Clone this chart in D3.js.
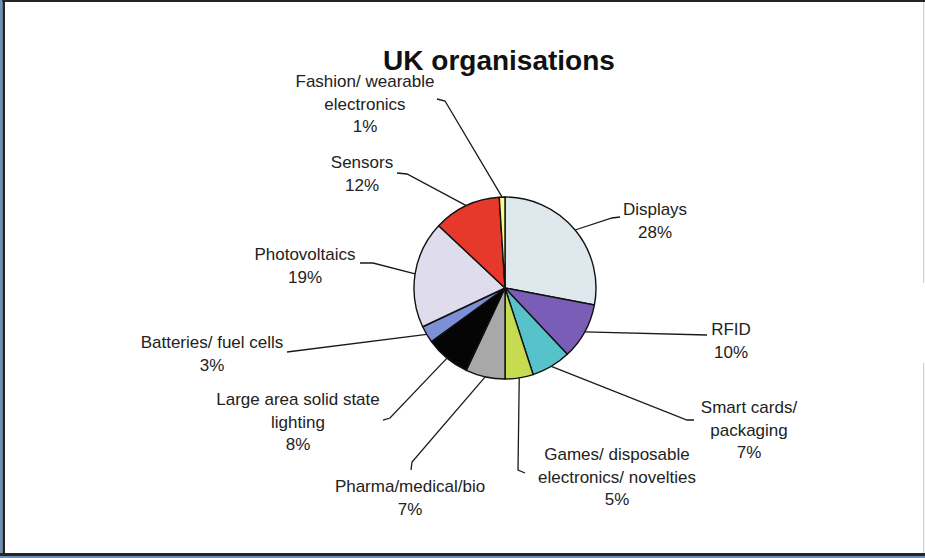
<!DOCTYPE html>
<html>
<head>
<meta charset="utf-8">
<script src="https://cdn.jsdelivr.net/npm/d3@7"></script>
<style>
  html, body { margin: 0; padding: 0; background: #ffffff; }
  svg { display: block; }
</style>
</head>
<body>
<svg id="chart" width="925" height="558"></svg>
<script>
// ---- data ----
const categories = ["Displays", "RFID", "Smart cards/ packaging", "Games/ disposable electronics/ novelties",
  "Pharma/medical/bio", "Large area solid state lighting", "Batteries/ fuel cells", "Photovoltaics",
  "Sensors", "Fashion/ wearable electronics"];
const labelLines = [["Displays"], ["RFID"], ["Smart cards/", "packaging"], ["Games/ disposable", "electronics/ novelties"],
  ["Pharma/medical/bio"], ["Large area solid state", "lighting"], ["Batteries/ fuel cells"], ["Photovoltaics"],
  ["Sensors"], ["Fashion/ wearable", "electronics"]];
const values = [28, 10, 7, 5, 7, 8, 3, 19, 12, 1];
const colors = ["#dfe8ed", "#7a5db6", "#58c2cb", "#c6db4f", "#a8a8a8", "#050505", "#7d90d6", "#dfdcee", "#e6382b", "#fcfc86"];
const title = "UK organisations";

// ---- layout (label anchor: text centre x, first baseline y, leader points from label side) ----
const labelLayout = [
  {x: 655, y: 215, lead: [[620, 217], [612, 218]]},
  {x: 731, y: 335, lead: [[707, 335]]},
  {x: 749, y: 413, lead: [[694, 420], [687, 420]]},
  {x: 617, y: 460, lead: [[525, 473], [518, 470]]},
  {x: 410, y: 492, lead: [[411, 470], [412, 462]]},
  {x: 298, y: 405, lead: [[383, 420], [390, 418]]},
  {x: 212, y: 348, lead: [[287, 352]]},
  {x: 305, y: 260, lead: [[360, 263], [373, 263]]},
  {x: 362, y: 168, lead: [[397, 173], [407, 174]]},
  {x: 365, y: 87, lead: [[437, 99], [445, 101]]}
];
const lineH = 22.5;

const svg = d3.select("#chart");
const W = 925, H = 558;

// ---- frame ----
svg.append("rect").attr("x", 0).attr("y", 0).attr("width", W).attr("height", H).attr("fill", "#ffffff");
svg.append("rect").attr("x", 0).attr("y", 0).attr("width", W).attr("height", 2).attr("fill", "#252525");
svg.append("rect").attr("x", 0).attr("y", 0).attr("width", 2.5).attr("height", H).attr("fill", "#6a92c0");
svg.append("rect").attr("x", 2.5).attr("y", 0).attr("width", 2.5).attr("height", H).attr("fill", "#252525");
svg.append("rect").attr("x", 0).attr("y", 553).attr("width", W).attr("height", 3).attr("fill", "#252525");
svg.append("rect").attr("x", 0).attr("y", 556).attr("width", W).attr("height", 2).attr("fill", "#6a92c0");
svg.append("rect").attr("x", 923).attr("y", 2).attr("width", 1.2).attr("height", 281).attr("fill", "#cfcfcf");
svg.append("rect").attr("x", 923).attr("y", 363).attr("width", 1.2).attr("height", 190).attr("fill", "#cfcfcf");

// ---- title ----
svg.append("text")
  .attr("x", 499).attr("y", 70)
  .attr("text-anchor", "middle")
  .attr("font-family", "'Liberation Sans', Arial, sans-serif")
  .attr("font-weight", "bold")
  .attr("font-size", 28)
  .attr("fill", "#111")
  .text(title);

// ---- pie ----
const cx = 505, cy = 288, r = 91;
const pie = d3.pie().sort(null).value(d => d.v);
const data = values.map((v, i) => ({v, i, name: categories[i]}));
const arcs = pie(data);
const arc = d3.arc().innerRadius(0).outerRadius(r);

const g = svg.append("g").attr("transform", `translate(${cx},${cy})`);
g.selectAll("path.slice")
  .data(arcs)
  .enter().append("path")
  .attr("class", "slice")
  .attr("d", arc)
  .attr("fill", d => colors[d.data.i])
  .attr("stroke", "#111")
  .attr("stroke-width", 1.4)
  .attr("stroke-linejoin", "round");

// ---- leader lines ----
const line = d3.line();
arcs.forEach(a => {
  const i = a.data.i;
  const mid = (a.startAngle + a.endAngle) / 2;
  const rim = [cx + r * Math.sin(mid), cy - r * Math.cos(mid)];
  const pts = labelLayout[i].lead.concat([rim]);
  svg.append("path")
    .attr("d", line(pts))
    .attr("fill", "none")
    .attr("stroke", "#1a1a1a")
    .attr("stroke-width", 1.3);
});

// ---- labels ----
arcs.forEach(a => {
  const i = a.data.i;
  const L = labelLayout[i];
  const lines = labelLines[i].concat([values[i] + "%"]);
  const t = svg.append("text")
    .attr("text-anchor", "middle")
    .attr("font-family", "'Liberation Sans', Arial, sans-serif")
    .attr("font-size", 17)
    .attr("fill", "#222");
  lines.forEach((s, k) => {
    t.append("tspan").attr("x", L.x).attr("y", L.y + k * lineH).text(s);
  });
});
</script>
</body>
</html>
